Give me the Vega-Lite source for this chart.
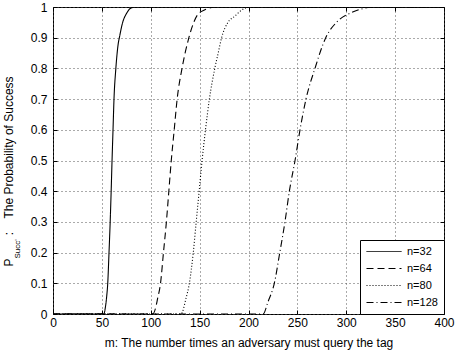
{
  "$schema": "https://vega.github.io/schema/vega-lite/v6.json",
  "width": 391,
  "height": 307,
  "autosize": {"type": "none"},
  "padding": {"left": 53, "top": 7, "right": 19, "bottom": 36},
  "background": "white",
  "data": {
    "values": [
      {"series": "n=32", "m": 0, "p": 0},
      {"series": "n=32", "m": 52, "p": 0},
      {"series": "n=32", "m": 53.5, "p": 0.02},
      {"series": "n=32", "m": 55, "p": 0.06},
      {"series": "n=32", "m": 56, "p": 0.1},
      {"series": "n=32", "m": 57.3, "p": 0.2},
      {"series": "n=32", "m": 58.5, "p": 0.3},
      {"series": "n=32", "m": 59.5, "p": 0.4},
      {"series": "n=32", "m": 60.4, "p": 0.5},
      {"series": "n=32", "m": 61.4, "p": 0.6},
      {"series": "n=32", "m": 62.4, "p": 0.7},
      {"series": "n=32", "m": 64.3, "p": 0.8},
      {"series": "n=32", "m": 66.3, "p": 0.87},
      {"series": "n=32", "m": 68.5, "p": 0.91},
      {"series": "n=32", "m": 71.3, "p": 0.95},
      {"series": "n=32", "m": 75.4, "p": 0.98},
      {"series": "n=32", "m": 79, "p": 0.995},
      {"series": "n=32", "m": 84, "p": 1},
      {"series": "n=32", "m": 400, "p": 1},
      {"series": "n=64", "m": 0, "p": 0},
      {"series": "n=64", "m": 102, "p": 0},
      {"series": "n=64", "m": 105, "p": 0.02},
      {"series": "n=64", "m": 107, "p": 0.05},
      {"series": "n=64", "m": 110, "p": 0.1},
      {"series": "n=64", "m": 113, "p": 0.2},
      {"series": "n=64", "m": 116, "p": 0.3},
      {"series": "n=64", "m": 118.5, "p": 0.4},
      {"series": "n=64", "m": 121, "p": 0.5},
      {"series": "n=64", "m": 124, "p": 0.6},
      {"series": "n=64", "m": 127, "p": 0.7},
      {"series": "n=64", "m": 132, "p": 0.8},
      {"series": "n=64", "m": 139, "p": 0.9},
      {"series": "n=64", "m": 144, "p": 0.95},
      {"series": "n=64", "m": 148, "p": 0.975},
      {"series": "n=64", "m": 155, "p": 0.99},
      {"series": "n=64", "m": 166, "p": 1},
      {"series": "n=64", "m": 400, "p": 1},
      {"series": "n=80", "m": 0, "p": 0},
      {"series": "n=80", "m": 131, "p": 0},
      {"series": "n=80", "m": 136, "p": 0.05},
      {"series": "n=80", "m": 139.5, "p": 0.1},
      {"series": "n=80", "m": 143.5, "p": 0.2},
      {"series": "n=80", "m": 146.5, "p": 0.3},
      {"series": "n=80", "m": 149.5, "p": 0.4},
      {"series": "n=80", "m": 152.5, "p": 0.5},
      {"series": "n=80", "m": 156, "p": 0.6},
      {"series": "n=80", "m": 160, "p": 0.7},
      {"series": "n=80", "m": 165.5, "p": 0.8},
      {"series": "n=80", "m": 169, "p": 0.85},
      {"series": "n=80", "m": 172.5, "p": 0.9},
      {"series": "n=80", "m": 179, "p": 0.95},
      {"series": "n=80", "m": 186, "p": 0.97},
      {"series": "n=80", "m": 193, "p": 0.99},
      {"series": "n=80", "m": 201, "p": 1},
      {"series": "n=80", "m": 400, "p": 1},
      {"series": "n=128", "m": 0, "p": 0},
      {"series": "n=128", "m": 215, "p": 0},
      {"series": "n=128", "m": 220, "p": 0.04},
      {"series": "n=128", "m": 226.4, "p": 0.1},
      {"series": "n=128", "m": 232, "p": 0.2},
      {"series": "n=128", "m": 237.3, "p": 0.3},
      {"series": "n=128", "m": 241.8, "p": 0.4},
      {"series": "n=128", "m": 247.6, "p": 0.5},
      {"series": "n=128", "m": 252.7, "p": 0.6},
      {"series": "n=128", "m": 258.8, "p": 0.7},
      {"series": "n=128", "m": 268, "p": 0.8},
      {"series": "n=128", "m": 279, "p": 0.9},
      {"series": "n=128", "m": 290, "p": 0.95},
      {"series": "n=128", "m": 304, "p": 0.98},
      {"series": "n=128", "m": 315, "p": 0.993},
      {"series": "n=128", "m": 329, "p": 1},
      {"series": "n=128", "m": 400, "p": 1}
    ]
  },
  "layer": [
    {
      "mark": {"type": "line", "color": "black", "strokeWidth": 1.1, "interpolate": "monotone", "clip": true},
      "encoding": {
        "x": {
          "field": "m", "type": "quantitative",
          "scale": {"domain": [0, 400], "nice": false, "zero": false},
          "axis": {
            "orient": "bottom",
            "values": [0, 50, 100, 150, 200, 250, 300, 350, 400],
            "grid": true,
            "domain": false,
            "tickSize": -4,
            "labelPadding": 7,
            "labelFlush": false,
            "title": "m: The number times an adversary must query the tag",
            "titleY": 32,
            "titleBaseline": "alphabetic"
          }
        },
        "y": {
          "field": "p", "type": "quantitative",
          "scale": {"domain": [0, 1], "nice": false},
          "axis": {
            "orient": "left",
            "values": [0, 0.1, 0.2, 0.3, 0.4, 0.5, 0.6, 0.7, 0.8, 0.9, 1],
            "format": "~g",
            "grid": true,
            "domain": false,
            "tickSize": -4,
            "labelPadding": 10,
            "labelFlush": false,
            "title": "P\u00a0\u00a0\u00a0\u00a0\u00a0\u00a0\u00a0:\u00a0\u00a0\u00a0\u00a0The Probability of Success",
            "titleAngle": 270,
            "titleX": -41,
            "titleY": 259,
            "titleAlign": "left",
            "titleBaseline": "alphabetic"
          }
        },
        "strokeDash": {
          "field": "series", "type": "nominal",
          "sort": ["n=32", "n=64", "n=80", "n=128"],
          "scale": {
            "domain": ["n=32", "n=64", "n=80", "n=128"],
            "range": [[1, 0], [7, 4], [1, 2], [7, 3, 1, 3]]
          },
          "legend": {"title": null}
        }
      }
    },
    {
      "mark": {"type": "point", "opacity": 0},
      "encoding": {
        "x": {
          "field": "m", "type": "quantitative",
          "axis": {
            "orient": "top",
            "values": [0, 50, 100, 150, 200, 250, 300, 350, 400],
            "labels": false, "grid": false, "domain": false,
            "tickSize": -4, "title": null
          }
        },
        "y": {
          "field": "p", "type": "quantitative",
          "axis": {
            "orient": "right",
            "values": [0, 0.1, 0.2, 0.3, 0.4, 0.5, 0.6, 0.7, 0.8, 0.9, 1],
            "labels": false, "grid": false, "domain": false,
            "tickSize": -4,
            "title": "Succ'",
            "titleFontSize": 8,
            "titleAngle": 270,
            "titleX": -425,
            "titleY": 251,
            "titleAlign": "left",
            "titleBaseline": "alphabetic"
          }
        }
      }
    }
  ],
  "resolve": {"axis": {"x": "independent", "y": "independent"}},
  "config": {
    "font": "Liberation Sans",
    "view": {"stroke": "black", "strokeWidth": 1},
    "axis": {
      "labelFont": "Liberation Sans",
      "titleFont": "Liberation Sans",
      "labelFontSize": 12,
      "titleFontSize": 12,
      "titleFontWeight": "normal",
      "labelColor": "black",
      "titleColor": "black",
      "tickColor": "black",
      "tickWidth": 1,
      "gridColor": "#555555",
      "gridDash": [1, 3],
      "gridOpacity": 1,
      "gridWidth": 1
    },
    "legend": {
      "orient": "bottom-right",
      "offset": 0,
      "strokeColor": "black",
      "fillColor": "white",
      "padding": 6,
      "cornerRadius": 0,
      "symbolType": "M-1,0H6",
      "symbolSize": 100,
      "symbolStrokeWidth": 1,
      "symbolStrokeColor": "black",
      "symbolFillColor": "transparent",
      "labelOffset": 30,
      "labelFont": "Liberation Sans",
      "labelFontSize": 11,
      "labelColor": "black",
      "rowPadding": 5
    }
  }
}
